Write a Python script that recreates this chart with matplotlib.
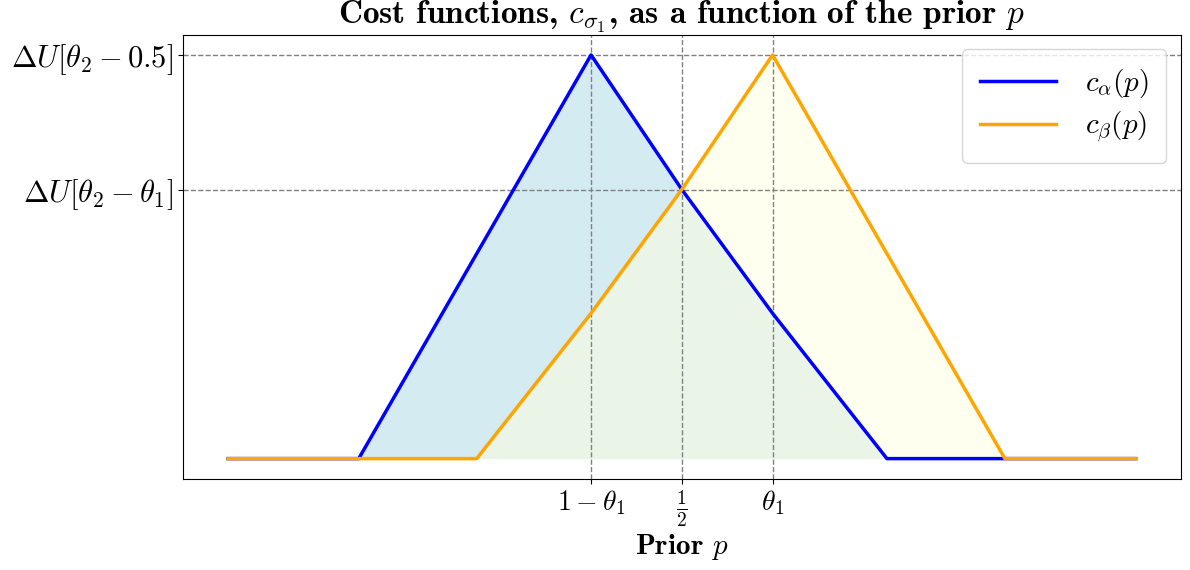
import numpy as np
import matplotlib
matplotlib.use('Agg')
import matplotlib.pyplot as plt

plt.rcParams['mathtext.fontset'] = 'cm'
plt.rcParams['font.family'] = 'serif'
plt.rcParams['font.serif'] = ['cmr10']
plt.rcParams['axes.unicode_minus'] = False

# values (prior p on [0, 1])
p_alpha = [0.0, 0.144, 0.4, 0.5, 0.6, 0.726, 1.0]
c_alpha = [0.0, 0.0, 3.0, 2.0, 1.08, 0.0, 0.0]
p_beta = [0.0, 0.274, 0.4, 0.5, 0.6, 0.856, 1.0]
c_beta = [0.0, 0.0, 1.08, 2.0, 3.0, 0.0, 0.0]

xtick_pos = [0.4, 0.5, 0.6]
xtick_labels = [r'$1-\theta_1$', r'$\frac{1}{2}$', r'$\theta_1$']
ytick_pos = [2.0, 3.0]
ytick_labels = [r'$\Delta U[\theta_2-\theta_1]$', r'$\Delta U[\theta_2-0.5]$']

fig, ax = plt.subplots(figsize=(11.9, 5.7), dpi=100)
fig.subplots_adjust(left=0.1535, right=0.9924, bottom=0.16, top=0.939)

ax.fill_between(p_alpha, 0, c_alpha, color='lightblue', alpha=0.5, linewidth=0)
ax.fill_between(p_beta, 0, c_beta, color='lightyellow', alpha=0.5, linewidth=0)
ax.plot(p_alpha, c_alpha, color='blue', linewidth=2.5, label=r'$c_\alpha(p)$')
ax.plot(p_beta, c_beta, color='orange', linewidth=2.5, label=r'$c_\beta(p)$')

ax.set_xticks(xtick_pos)
ax.set_xticklabels(xtick_labels, fontsize=20)
ax.set_yticks(ytick_pos)
ax.set_yticklabels(ytick_labels, fontsize=22)
ax.grid(True, linestyle='--', color='gray', linewidth=1)

ax.set_title(r'Cost functions, $c_{\sigma_1}$, as a function of the prior $p$',
             fontsize=24, fontfamily='cmb10', pad=5)
ax.set_xlabel(r'Prior $p$', fontsize=21, fontfamily='cmb10', labelpad=2)
ax.legend(loc='upper right', fontsize=21, borderpad=0.6, handlelength=2.6,
          handletextpad=1.0, labelspacing=0.35)

fig.savefig('out.png', dpi=100)
